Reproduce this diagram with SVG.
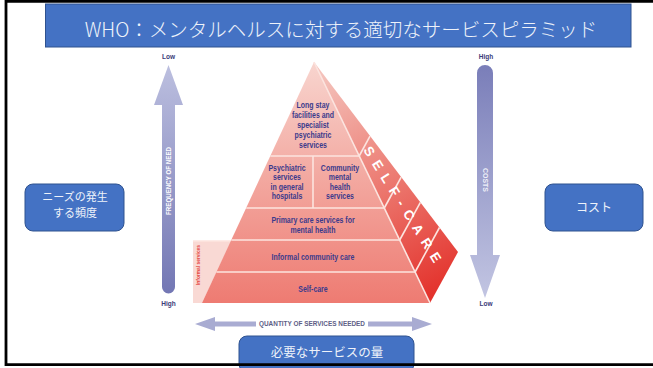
<svg xmlns="http://www.w3.org/2000/svg" width="653" height="368" viewBox="0 0 653 368">
<defs>
<style>
.box{fill:#4472C4;stroke:#2F528F;stroke-width:1}
.jp{font-family:"Noto Sans CJK JP","Noto Sans",sans-serif;fill:#EEF2FA;text-anchor:middle}
.lbl{font-family:"Liberation Sans",Arial,sans-serif;font-weight:bold;font-size:8.5px;fill:#3B3A8C;text-anchor:middle}
.sm{font-family:"Liberation Sans",Arial,sans-serif;font-weight:bold;font-size:6.5px;fill:#3A3A78;text-anchor:middle}
.arr{font-family:"Liberation Sans",Arial,sans-serif;font-weight:bold;font-size:6.5px;text-anchor:middle}
.div{stroke:#FCE4DF;stroke-width:1.6;fill:none}
</style>
<linearGradient id="gFront" x1="0" y1="62" x2="0" y2="303" gradientUnits="userSpaceOnUse">
<stop offset="0" stop-color="#F8D5CF"/>
<stop offset="0.45" stop-color="#F3ABA3"/>
<stop offset="1" stop-color="#EE7B72"/>
</linearGradient>
<linearGradient id="gSide" x1="330" y1="70" x2="450" y2="290" gradientUnits="userSpaceOnUse">
<stop offset="0" stop-color="#F4C2BB"/>
<stop offset="0.5" stop-color="#EC7A71"/>
<stop offset="1" stop-color="#E3302A"/>
</linearGradient>
<linearGradient id="gFreq" x1="0" y1="65" x2="0" y2="293" gradientUnits="userSpaceOnUse">
<stop offset="0" stop-color="#BCBFDF"/>
<stop offset="1" stop-color="#7377B4"/>
</linearGradient>
<linearGradient id="gCost" x1="0" y1="65" x2="0" y2="298" gradientUnits="userSpaceOnUse">
<stop offset="0" stop-color="#7A7EB9"/>
<stop offset="1" stop-color="#C2C5E2"/>
</linearGradient>
</defs>
<rect width="653" height="368" fill="#FFFFFF"/>

<g id="title">
<rect class="box" x="45.5" y="4" width="585.5" height="43"/>
<text class="jp" x="341" y="36.5" font-size="19.5" font-weight="300">WHO：メンタルヘルスに対する適切なサービスピラミッド</text>
</g>

<g id="connectors">
<g id="freq-arrow">
<path d="M168.5,65 L183,105 L175,105 L175,287 A6.5,6.5 0 0 1 162,287 L162,105 L154,105 Z" fill="url(#gFreq)"/>
<text class="arr" fill="#FFFFFF" transform="translate(168.5,181) rotate(-90)" y="2.3" textLength="68" lengthAdjust="spacingAndGlyphs">FREQUENCY OF NEED</text>
</g>
<g id="cost-arrow">
<path d="M477,73 A8,8 0 0 1 493,73 L493,255 L500,255 L485,298 L470,255 L477,255 Z" fill="url(#gCost)"/>
<text class="arr" fill="#EEEFF8" transform="translate(485,180) rotate(90)" y="2.3" textLength="24" lengthAdjust="spacingAndGlyphs">COSTS</text>
</g>
<g id="quantity-arrow" fill="#A9ACD2">
<path d="M195,324 L215,317 L215,321.5 L256,321.5 L256,326.5 L215,326.5 L215,331 Z"/>
<path d="M432,324 L412,317 L412,321.5 L368,321.5 L368,326.5 L412,326.5 L412,331 Z"/>
<text class="arr" fill="#5E5E86" x="312" y="326.3" textLength="106" lengthAdjust="spacingAndGlyphs">QUANTITY OF SERVICES NEEDED</text>
</g>
</g>

<g id="axis-labels">
<text class="sm" x="168.5" y="58.5">Low</text>
<text class="sm" x="168.5" y="306">High</text>
<text class="sm" x="486" y="58.5">High</text>
<text class="sm" x="486" y="306">Low</text>
</g>

<g id="pyramid">
<g id="informal-services">
<polygon points="193,241 231.3,241 202,303 193,303" fill="#F9D9D4"/>
<line x1="193" y1="241" x2="231.3" y2="241" class="div"/>
<text font-family="Liberation Sans, Arial, sans-serif" font-weight="bold" font-size="5px" fill="#E5463E" text-anchor="middle" transform="translate(198,265) rotate(-90)" y="1.7" textLength="40" lengthAdjust="spacingAndGlyphs">Informal services</text>
</g>
<g id="side-face">
<polygon points="314,62 458,252 430,303" fill="url(#gSide)"/>
<line x1="359.2" y1="156" x2="370" y2="136.1" class="div"/>
<line x1="384.3" y1="208" x2="401.2" y2="177.1" class="div"/>
<line x1="399.7" y1="240" x2="420.4" y2="202.4" class="div"/>
<line x1="415.1" y1="272" x2="439.5" y2="227.5" class="div"/>
<text font-family="Liberation Sans, Arial, sans-serif" font-weight="bold" font-size="13.5px" fill="#FFFFFF" transform="translate(363,150) rotate(58)" textLength="134" lengthAdjust="spacing">SELF-CARE</text>
</g>
<polygon points="314,62 430,303 202,303" fill="url(#gFront)"/>
<line x1="314" y1="62" x2="430" y2="303" class="div" stroke-width="1"/>
<g id="specialist">
<line x1="270.3" y1="156" x2="359.2" y2="156" class="div"/>
<g transform="translate(313,0) scale(0.82,1)">
<text class="lbl" x="0" y="108">Long stay</text>
<text class="lbl" x="0" y="118">facilities and</text>
<text class="lbl" x="0" y="128">specialist</text>
<text class="lbl" x="0" y="138">psychiatric</text>
<text class="lbl" x="0" y="148">services</text>
</g>
</g>
<g id="psychiatric-general">
<line x1="313" y1="156" x2="313" y2="208" class="div"/>
<g transform="translate(287,0) scale(0.82,1)">
<text class="lbl" x="0" y="171">Psychiatric</text>
<text class="lbl" x="0" y="180.5">services</text>
<text class="lbl" x="0" y="190">in general</text>
<text class="lbl" x="0" y="199.5">hospitals</text>
</g>
</g>
<g id="community-mental-health">
<g transform="translate(340,0) scale(0.82,1)">
<text class="lbl" x="0" y="171">Community</text>
<text class="lbl" x="0" y="180.5">mental</text>
<text class="lbl" x="0" y="190">health</text>
<text class="lbl" x="0" y="199.5">services</text>
</g>
</g>
<g id="primary-care">
<line x1="246.2" y1="208" x2="384.3" y2="208" class="div"/>
<g transform="translate(313,0) scale(0.82,1)">
<text class="lbl" x="0" y="223">Primary care services for</text>
<text class="lbl" x="0" y="233">mental health</text>
</g>
</g>
<g id="informal-community-care">
<line x1="231.3" y1="240" x2="399.7" y2="240" class="div"/>
<g transform="translate(313,0) scale(0.82,1)">
<text class="lbl" x="0" y="260">Informal community care</text>
</g>
</g>
<g id="self-care">
<line x1="216.4" y1="272" x2="415.1" y2="272" class="div"/>
<g transform="translate(313,0) scale(0.82,1)">
<text class="lbl" x="0" y="292">Self-care</text>
</g>
</g>
</g>

<g id="need-frequency">
<rect class="box" x="25" y="184" width="99" height="47" rx="8"/>
<text class="jp" x="75" y="200.5" font-size="11">ニーズの発生</text>
<text class="jp" x="75" y="216.8" font-size="11">する頻度</text>
</g>

<g id="cost">
<rect class="box" x="545" y="184" width="98" height="47" rx="8"/>
<text class="jp" x="594" y="212" font-size="12">コスト</text>
</g>

<g id="quantity">
<rect class="box" x="239" y="336" width="175" height="36" rx="8"/>
<text class="jp" x="327" y="356.5" font-size="12.5">必要なサービスの量</text>
</g>

<g id="frame" fill="none" stroke="#000000" stroke-width="2.8">
<path d="M6,1.4 H653 M6,0 V366 M6,364.7 H653"/>
</g>
</svg>
